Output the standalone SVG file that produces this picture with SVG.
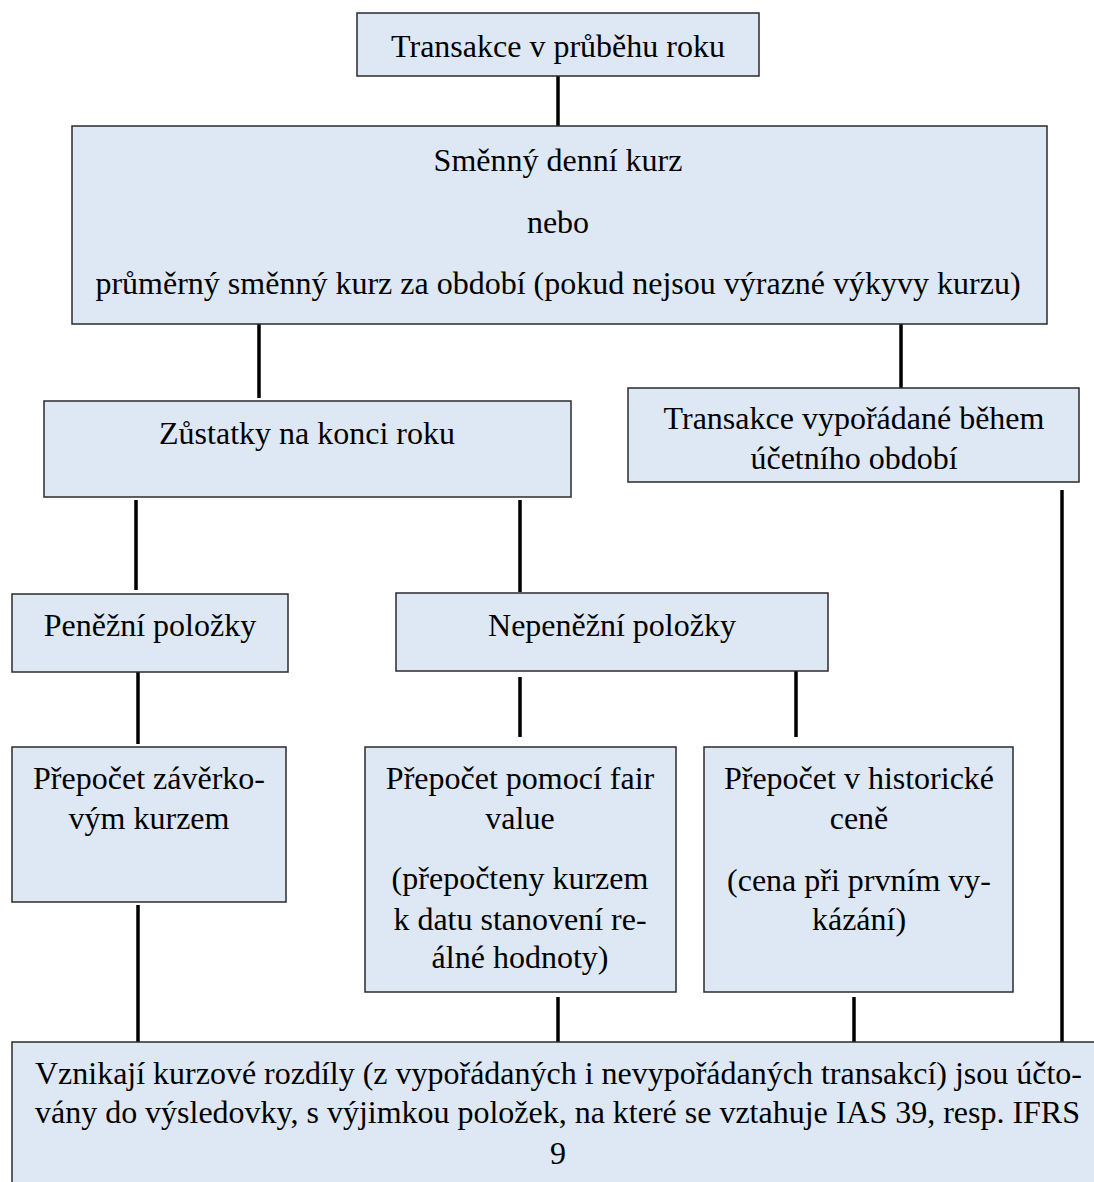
<svg xmlns="http://www.w3.org/2000/svg" width="1094" height="1182" viewBox="0 0 1094 1182">
<style>
.box{fill:#dde8f4;stroke:#2b2b2b;stroke-width:1.5}
.t{font-family:'Liberation Serif','Times New Roman',Times,'DejaVu Serif',serif;font-size:32px;fill:#000;text-anchor:middle}
.c{stroke:#000;stroke-width:3.5;fill:none}
</style>
<rect width="1094" height="1182" fill="#fff"/>
<g id="connectors">
<line class="c" x1="558" y1="70" x2="558" y2="126"/>
<line class="c" x1="259" y1="323" x2="259" y2="398"/>
<line class="c" x1="901" y1="323" x2="901" y2="388"/>
<line class="c" x1="136" y1="500" x2="136" y2="590"/>
<line class="c" x1="520" y1="500" x2="520" y2="592"/>
<line class="c" x1="1062" y1="490" x2="1062" y2="1043"/>
<line class="c" x1="138" y1="666" x2="138" y2="744"/>
<line class="c" x1="520" y1="677" x2="520" y2="737"/>
<line class="c" x1="796" y1="671" x2="796" y2="737"/>
<line class="c" x1="138" y1="905" x2="138" y2="1046"/>
<line class="c" x1="558" y1="997" x2="558" y2="1042"/>
<line class="c" x1="854" y1="997" x2="854" y2="1042"/>
</g>
<g id="n-transakce">
<rect class="box" x="357" y="13" width="402" height="63"/>
<text class="t" x="558" y="57">Transakce v průběhu roku</text>
</g>
<g id="n-kurz">
<rect class="box" x="72" y="126" width="975" height="198"/>
<text class="t" x="558" y="171">Směnný denní kurz</text>
<text class="t" x="558" y="233">nebo</text>
<text class="t" x="558" y="294">průměrný směnný kurz za období (pokud nejsou výrazné výkyvy kurzu)</text>
</g>
<g id="n-zustatky">
<rect class="box" x="44" y="401" width="527" height="96"/>
<text class="t" x="307" y="444">Zůstatky na konci roku</text>
</g>
<g id="n-vyporadane">
<rect class="box" x="628" y="388" width="451" height="94"/>
<text class="t" x="854" y="429">Transakce vypořádané během</text>
<text class="t" x="854" y="469">účetního období</text>
</g>
<g id="n-penezni">
<rect class="box" x="12" y="594" width="276" height="78"/>
<text class="t" x="150" y="636">Peněžní položky</text>
</g>
<g id="n-nepenezni">
<rect class="box" x="396" y="593" width="432" height="78"/>
<text class="t" x="612" y="636">Nepeněžní položky</text>
</g>
<g id="n-zaverkovy">
<rect class="box" x="12" y="747" width="274" height="155"/>
<text class="t" x="149" y="789">Přepočet závěrko-</text>
<text class="t" x="149" y="829">vým kurzem</text>
</g>
<g id="n-fair">
<rect class="box" x="365" y="747" width="311" height="245"/>
<text class="t" x="520" y="789">Přepočet pomocí fair</text>
<text class="t" x="520" y="829">value</text>
<text class="t" x="520" y="889">(přepočteny kurzem</text>
<text class="t" x="520" y="930">k datu stanovení re-</text>
<text class="t" x="520" y="968">álné hodnoty)</text>
</g>
<g id="n-historicka">
<rect class="box" x="704" y="747" width="309" height="245"/>
<text class="t" x="859" y="789">Přepočet v historické</text>
<text class="t" x="859" y="829">ceně</text>
<text class="t" x="859" y="891">(cena při prvním vy-</text>
<text class="t" x="859" y="930">kázání)</text>
</g>
<g id="n-rozdily">
<rect class="box" x="12" y="1042" width="1100" height="160"/>
<text class="t" x="35" y="1084" style="text-anchor:start" textLength="1047" lengthAdjust="spacing">Vznikají kurzové rozdíly (z vypořádaných i nevypořádaných transakcí) jsou účto-</text>
<text class="t" x="35" y="1123" style="text-anchor:start" textLength="1045" lengthAdjust="spacing">vány do výsledovky, s výjimkou položek, na které se vztahuje IAS 39, resp. IFRS</text>
<text class="t" x="558" y="1164">9</text>
</g>
</svg>
